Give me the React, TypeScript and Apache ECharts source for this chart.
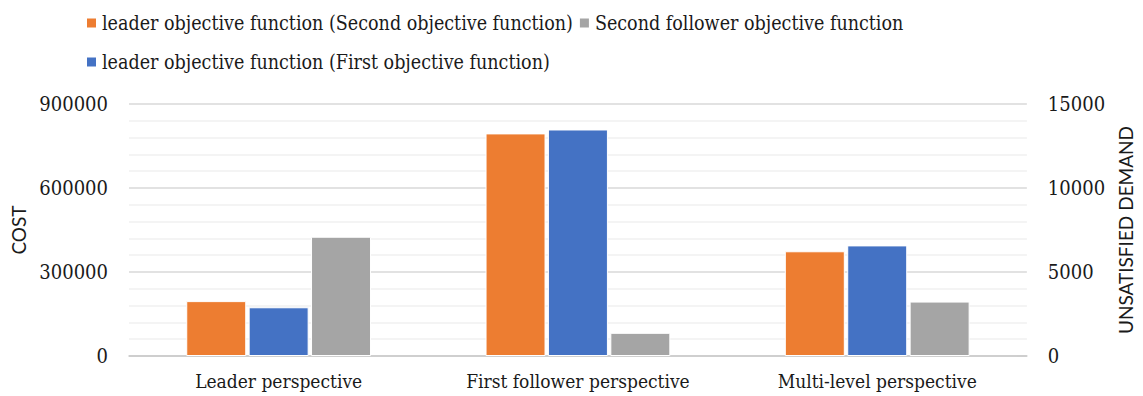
import React, { useEffect, useRef } from "react";
import * as echarts from "echarts";

const categories = ["Leader perspective", "First follower perspective", "Multi-level perspective"];
const seriesNames = [
  "leader objective function (Second objective function)",
  "Second follower objective function",
  "leader objective function (First objective function)",
];
const secondObjective = [196000, 795000, 374000];
const firstObjective = [174000, 809000, 395000];
const secondFollower = [7100, 1380, 3240];
const costTicks = { min: 0, max: 900000, interval: 300000 };
const demandTicks = { min: 0, max: 15000, interval: 5000 };

const SERIF = "DejaVu Serif Condensed";
const SANS = "Lato";

export default function App() {
  const ref = useRef<HTMLDivElement>(null);
  useEffect(() => {
    if (!ref.current) return;
    const chart = echarts.init(ref.current, null, { renderer: "svg" });
    const legendText = { fontFamily: SERIF, fontSize: 19.5, color: "#1a1a1a" };
    const barItem = (c: string) => ({ color: c, borderColor: "#fff", borderWidth: 1 });
    const plain = (v: number) => String(v);
    chart.setOption({
      animation: false,
      textStyle: { fontFamily: SERIF },
      legend: [
        {
          left: 80,
          top: 8,
          itemWidth: 11,
          itemHeight: 11,
          itemGap: 5,
          icon: "rect",
          data: [seriesNames[0], seriesNames[1]],
          textStyle: legendText,
        },
        {
          left: 80,
          top: 47,
          itemWidth: 11,
          itemHeight: 11,
          icon: "rect",
          data: [seriesNames[2]],
          textStyle: legendText,
        },
      ],
      grid: { left: 129, right: 111, top: 104, bottom: 40 },
      xAxis: {
        type: "category",
        data: categories,
        axisTick: { show: false },
        axisLine: { lineStyle: { color: "#c8c8c8", width: 1.5 } },
        axisLabel: { fontFamily: SERIF, fontSize: 19, color: "#1a1a1a", margin: 15 },
      },
      yAxis: [
        {
          type: "value",
          ...costTicks,
          name: "COST",
          nameLocation: "middle",
          nameRotate: 90,
          nameGap: 96,
          nameTextStyle: { fontFamily: SANS, fontSize: 19, color: "#1a1a1a" },
          axisLabel: { fontFamily: SERIF, fontSize: 20, color: "#1a1a1a", margin: 21, formatter: plain },
          splitLine: { show: true, lineStyle: { color: "#d9d9d9", width: 1.5 } },
          minorTick: { show: false, splitNumber: 5 },
          minorSplitLine: { show: true, lineStyle: { color: "#f0f0f0", width: 1.5 } },
        },
        {
          type: "value",
          ...demandTicks,
          name: "UNSATISFIED DEMAND",
          nameLocation: "middle",
          nameRotate: 90,
          nameGap: 89,
          nameTextStyle: { fontFamily: SANS, fontSize: 19, color: "#1a1a1a" },
          axisLabel: { fontFamily: SERIF, fontSize: 20, color: "#1a1a1a", margin: 21, formatter: plain },
          splitLine: { show: false },
        },
      ],
      series: [
        {
          name: seriesNames[0],
          type: "bar",
          yAxisIndex: 0,
          data: secondObjective,
          barWidth: 60,
          barGap: "4%",
          itemStyle: barItem("#ED7D31"),
        },
        {
          name: seriesNames[2],
          type: "bar",
          yAxisIndex: 0,
          data: firstObjective,
          barWidth: 60,
          barGap: "4%",
          itemStyle: barItem("#4472C4"),
        },
        {
          name: seriesNames[1],
          type: "bar",
          yAxisIndex: 1,
          data: secondFollower,
          barWidth: 60,
          barGap: "4%",
          itemStyle: barItem("#A5A5A5"),
        },
      ],
    });
    return () => chart.dispose();
  }, []);
  return (
    <div
      ref={ref}
      style={{ position: "absolute", left: 0, top: 0, width: 1143, height: 396 }}
    />
  );
}
